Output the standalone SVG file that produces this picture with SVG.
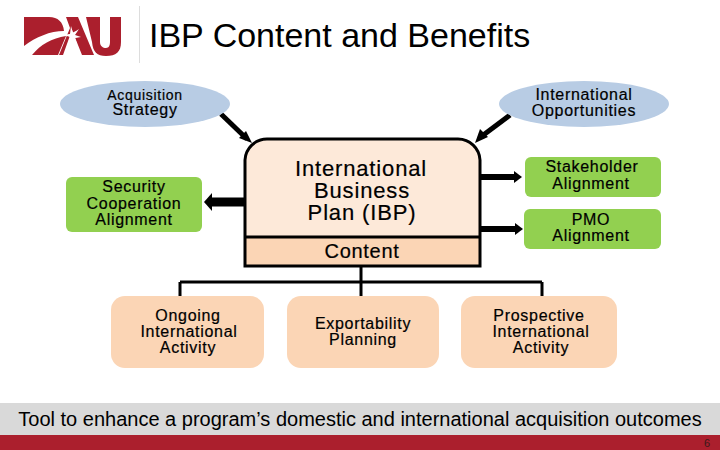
<svg xmlns="http://www.w3.org/2000/svg" width="720" height="450" viewBox="0 0 720 450">
<defs><style>
text{font-family:"Liberation Sans",Arial,sans-serif;fill:#000;text-anchor:middle;letter-spacing:.7px;stroke:#000;stroke-width:.2px}
.s{font-size:16px}.m{font-size:22px;letter-spacing:.85px}
.c{stroke:#000;fill:none}
.ah{fill:#000}
.b{fill:#b8cce4}.g{fill:#92d050}.p{fill:#fbd5b5}
</style></defs>
<rect width="720" height="450" fill="#fff"/>
<g id="logo" fill="#ab1f2d">
<path d="M24 17H49C58 17 63 22 64 31 50 31 36 37 24 46Z"/>
<path d="M32 55C40 45 52 38 66 36L58 55Z"/>
<path d="M66 17H78L94 55H82L72 30 63 55H59L70 28Z"/>
<path d="M86 17H100V42C100 46 103 48 106 48 109 48 110 45 110 42V17H121V42C121 52 116 56 106 56 97 56 93 52 92 42Z"/>
<path d="M71 26 73 33 79 29 75 35 81 37 75 38 77 44 72 39 68 43 70 37 64 35 70 34Z" fill="#fff"/>
<path d="M71 28 72 33 76 31 74 35 78 37 74 38 75 41 72 38 69 41 71 37 67 35 71 34Z" fill="#fff"/>
<rect x="139" y="6" width="1" height="57" fill="#ddd"/>
</g>
<text x="149" y="47" style="font-size:34px;text-anchor:start;letter-spacing:0;stroke:none">IBP Content and Benefits</text>
<g id="connectors">
<path class="c" d="M221 114 247 139" stroke-width="5"/><path class="ah" d="M252 143 239 138 246 131Z"/>
<path class="c" d="M510 115 482 136" stroke-width="5"/><path class="ah" d="M475 143 480 129 488 137Z"/>
<path class="c" d="M245 202H212" stroke-width="9"/><path class="ah" d="M204 202 212 193V211Z"/>
<path class="c" d="M480 177H515" stroke-width="6"/><path class="ah" d="M522 177 514 171V183Z"/>
<path class="c" d="M480 229H516" stroke-width="6"/><path class="ah" d="M523 229 515 223V235Z"/>
<path class="c" d="M361 267V296M180 282H542M180 296V282M542 282V296" stroke-width="3"/>
</g>
<g id="acquisition"><ellipse class="b" cx="145" cy="104" rx="85" ry="23"/><text><tspan x="145" y="100" style="font-size:14px">Acquisition</tspan><tspan x="145" y="115" class="s">Strategy</tspan></text></g>
<g id="opportunities"><ellipse class="b" cx="584" cy="104" rx="85" ry="23"/><text class="s"><tspan x="584" y="100">International</tspan><tspan x="584" y="116">Opportunities</tspan></text></g>
<g id="security"><rect class="g" x="66" y="177" width="136" height="55" rx="6"/><text class="s"><tspan x="134" y="192">Security</tspan><tspan x="134" y="209">Cooperation</tspan><tspan x="134" y="225">Alignment</tspan></text></g>
<g id="stakeholder"><rect class="g" x="525" y="157" width="136" height="40" rx="6"/><text class="s"><tspan x="592" y="172">Stakeholder</tspan><tspan x="591" y="189">Alignment</tspan></text></g>
<g id="pmo"><rect class="g" x="524" y="209" width="137" height="40" rx="6"/><text class="s"><tspan x="591" y="225">PMO</tspan><tspan x="591" y="241">Alignment</tspan></text></g>
<g id="ibp">
<path d="M245 266V160A22 22 0 0 1 267 139H458A22 22 0 0 1 480 160V266Z" fill="#fde9d9"/>
<rect x="245" y="237" width="235" height="30" fill="#fbd5b5"/>
<path class="c" stroke-width="3" d="M245 266V160A22 22 0 0 1 267 139H458A22 22 0 0 1 480 160V266ZM245 237H480"/>
<text class="m"><tspan x="361" y="176">International</tspan><tspan x="362" y="198">Business</tspan><tspan x="362" y="220">Plan (IBP)</tspan></text>
<text x="362" y="258" style="font-size:20px">Content</text>
</g>
<g id="ongoing"><rect class="p" x="111" y="296" width="153" height="72" rx="14"/><text class="s"><tspan x="188" y="321">Ongoing</tspan><tspan x="189" y="337">International</tspan><tspan x="188" y="353">Activity</tspan></text></g>
<g id="exportability"><rect class="p" x="287" y="296" width="152" height="72" rx="14"/><text class="s"><tspan x="363" y="329">Exportability</tspan><tspan x="363" y="345">Planning</tspan></text></g>
<g id="prospective"><rect class="p" x="461" y="296" width="156" height="72" rx="14"/><text class="s"><tspan x="539" y="321">Prospective</tspan><tspan x="541" y="337">International</tspan><tspan x="541" y="353">Activity</tspan></text></g>
<g id="footer">
<rect y="403" width="720" height="33" fill="#d9d9d9"/>
<rect y="435" width="720" height="15" fill="#ab1f2d"/>
<text x="360" y="426" style="font-size:20px;letter-spacing:0;stroke:none">Tool to enhance a program’s domestic and international acquisition outcomes</text>
<text x="707" y="447" style="font-size:11px;fill:#3a1a1a;letter-spacing:0;stroke:none">6</text>
</g>
</svg>
